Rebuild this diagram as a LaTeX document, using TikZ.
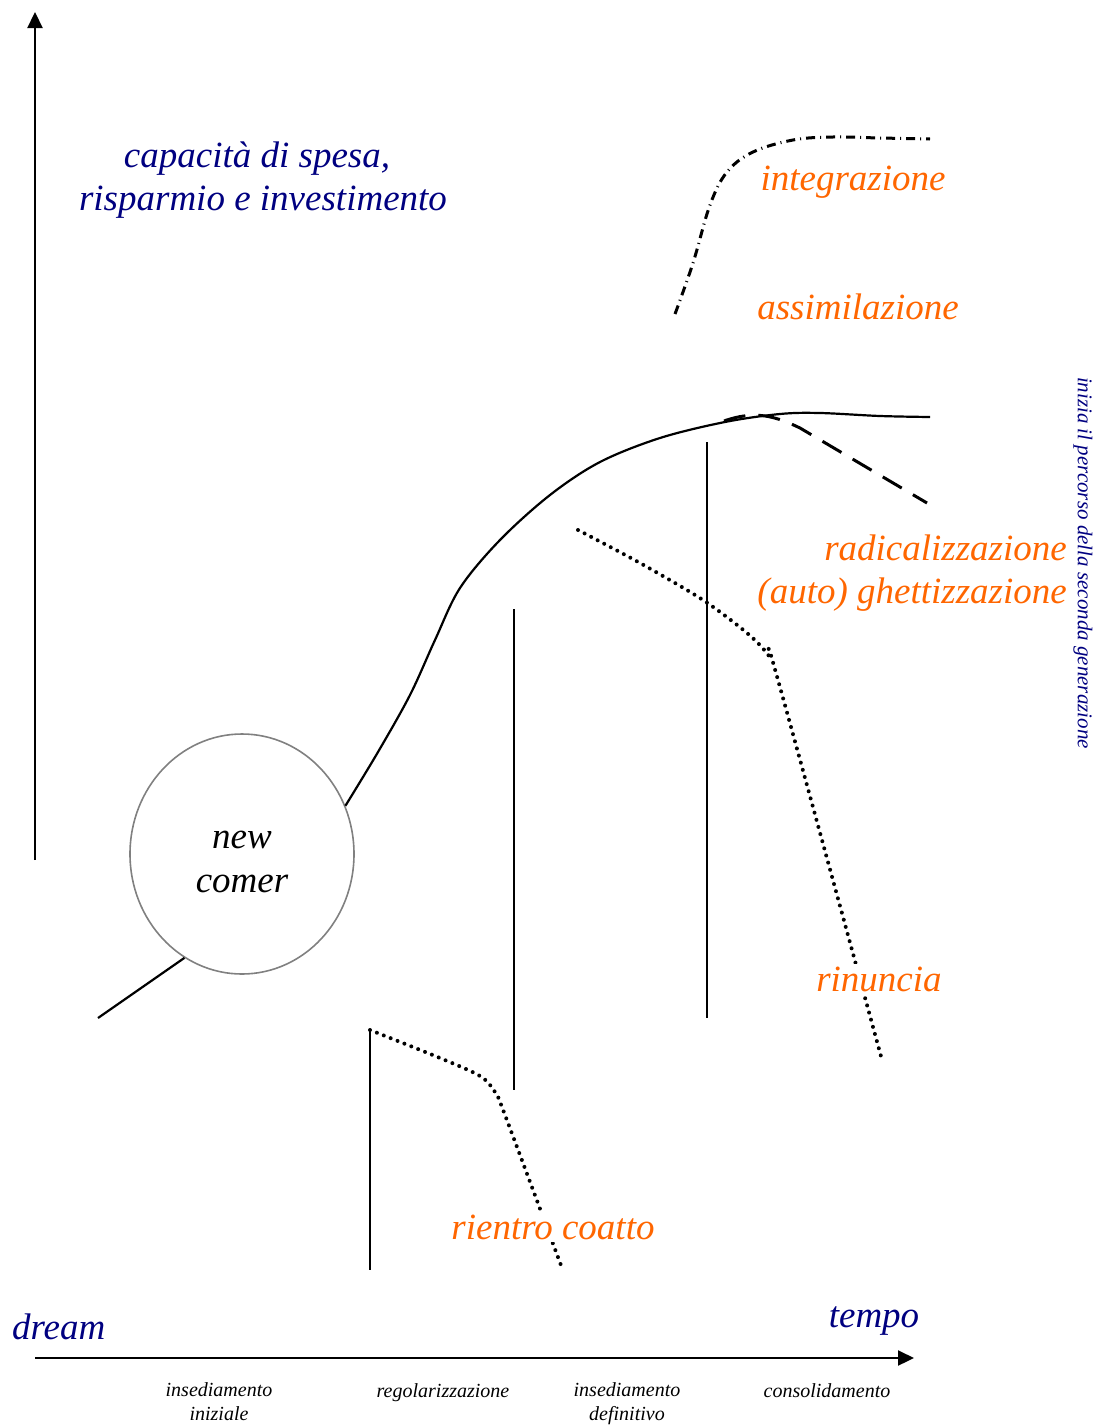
\documentclass[tikz,border=0pt]{standalone}
\usepackage{fontspec}
\setmainfont{Liberation Serif}
\usetikzlibrary{arrows.meta,shapes.geometric}
\definecolor{navyc}{RGB}{0,0,128}
\definecolor{orangec}{RGB}{255,102,0}
\definecolor{circgray}{RGB}{128,128,128}
\tikzset{
  bigtxt/.style={font=\fontsize{37}{43}\selectfont\itshape, inner sep=0pt},
  navytxt/.style={bigtxt, text=navyc},
  orangetxt/.style={bigtxt, text=orangec},
  phasetxt/.style={font=\fontsize{20}{24}\selectfont\itshape, inner sep=0pt},
  axisline/.style={line width=2.2pt, -{Triangle[length=16pt,width=15pt]}},
  solidline/.style={line width=2.2pt},
  dotline/.style={line width=4pt, line cap=round, dash pattern=on 0pt off 7.4pt},
  dashline/.style={line width=3pt, dash pattern=on 22pt off 13pt},
  dashdotline/.style={line width=3pt, dash pattern=on 9pt off 5pt on 1pt off 5pt},
}
\begin{document}
\begin{tikzpicture}[x=1pt,y=-1pt]
\useasboundingbox (0,0) rectangle (1097,1427);

% axes
\coordinate (yfrom) at (35,860);
\coordinate (yto) at (35,12);
\coordinate (xfrom) at (35,1358);
\coordinate (xto) at (914,1358);
\draw[axisline] (yfrom) -- (yto);
\draw[axisline] (xfrom) -- (xto);

% new comer ellipse
\node[ellipse, draw=circgray, line width=1.6pt, minimum width=224pt, minimum height=240pt, inner sep=0pt] (nc) at (242,854) {};
\node[bigtxt, anchor=base] (ncA) at (242,848) {new};
\node[bigtxt, anchor=base] (ncB) at (242,892) {comer};

\coordinate (entry) at (98,1018);
\draw[solidline] (entry) -- (nc.241);

% main growth curve
\coordinate (mainend) at (930,417);
\draw[solidline] plot[smooth, tension=0.55] coordinates {(nc.25) (378,752) (410,695) (435,640) (460,588) (500,540) (550,495) (600,462) (660,438) (725,422) (780,414) (820,413) (880,416) (mainend)};

% dashed branch (radicalizzazione)
\coordinate (dashA) at (724,421);
\coordinate (dashB) at (927,503);
\draw[dashline] (dashA) .. controls (755,410) and (775,416) .. (800,428) -- (dashB);

% dash-dot branch (integrazione)
\coordinate (ddA) at (675,314);
\coordinate (ddB) at (930,139);
\draw[dashdotline] plot[smooth, tension=0.6] coordinates {(ddA) (693,263) (710,205) (727,172) (753,152) (793,140) (833,137) (880,138) (ddB)};

% vertical phase lines
\coordinate (v1a) at (370,1030);
\coordinate (v1b) at (370,1270);
\coordinate (v2a) at (514,609);
\coordinate (v2b) at (514,1090);
\coordinate (v3a) at (707,442);
\coordinate (v3b) at (707,1018);
\draw[solidline] (v1a) -- (v1b);
\draw[solidline] (v2a) -- (v2b);
\draw[solidline] (v3a) -- (v3b);

% dotted branch (rinuncia)
\coordinate (dotA) at (578,530);
\coordinate (dotB) at (882,1060);
\draw[dotline] plot[smooth, tension=0.5] coordinates {(dotA) (640,563) (703,600) (747,633) (768,655) (778,680) (dotB)};

% dotted branch (rientro coatto)
\coordinate (dot2B) at (562,1268);
\draw[dotline] plot[smooth, tension=0.5] coordinates {(v1a) (440,1058) (480,1076) (495,1092) (505,1115) (dot2B)};

% labels
\node[navytxt, anchor=base] (capA) at (257,167) {capacità di spesa,};
\node[navytxt, anchor=base] (capB) at (263,210) {risparmio e investimento};
\node[orangetxt, anchor=base] (integ) at (853,190) {integrazione};
\node[orangetxt, anchor=base] (assim) at (858,319) {assimilazione};
\node[orangetxt, anchor=base east] (radA) at (1067,560) {radicalizzazione};
\node[orangetxt, anchor=base east] (radB) at (1067,603) {(auto) ghettizzazione};
\node[orangetxt, anchor=base, fill=white, inner sep=3pt] (rin) at (879,991) {rinuncia};
\node[orangetxt, anchor=base, fill=white, inner sep=3pt] (rient) at (553,1239) {rientro coatto};
\node[navytxt, anchor=base west] (dream) at (12,1339) {dream};
\node[navytxt, anchor=base] (tempo) at (874,1327) {tempo};
\node[font=\fontsize{21}{24}\selectfont\itshape, text=navyc, rotate=-90, inner sep=0pt] (gen) at (1083,563) {inizia il percorso della seconda generazione};

% phase labels
\node[phasetxt, anchor=base] (p1a) at (219,1396) {insediamento};
\node[phasetxt, anchor=base] (p1b) at (219,1420) {iniziale};
\node[phasetxt, anchor=base] (p2) at (443,1397) {regolarizzazione};
\node[phasetxt, anchor=base] (p3a) at (627,1396) {insediamento};
\node[phasetxt, anchor=base] (p3b) at (627,1420) {definitivo};
\node[phasetxt, anchor=base] (p4) at (827,1397) {consolidamento};
\end{tikzpicture}
\end{document}
